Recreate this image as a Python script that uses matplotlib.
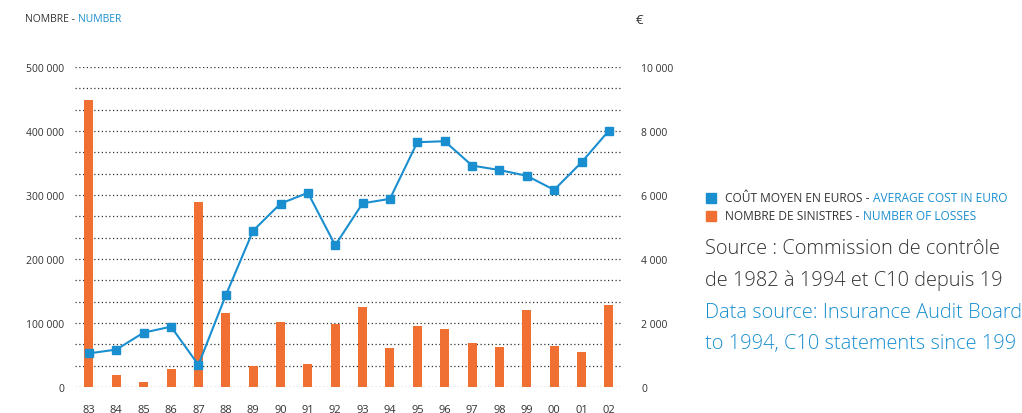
import matplotlib
matplotlib.use("Agg")
import matplotlib.pyplot as plt
import numpy as np
from matplotlib.patches import Rectangle

years = ["83", "84", "85", "86", "87", "88", "89", "90", "91", "92",
         "93", "94", "95", "96", "97", "98", "99", "00", "01", "02"]
losses = [448000, 19000, 8000, 28000, 289000, 116000, 33000, 102000, 36000, 98000,
          125000, 61000, 95000, 91000, 69000, 63000, 120000, 64000, 55000, 128000]
avg_cost = [1050, 1170, 1700, 1885, 690, 2865, 4885, 5730, 6070, 4430,
            5740, 5880, 7650, 7680, 6920, 6780, 6600, 6160, 7020, 8010]
left_ticks = [0, 100000, 200000, 300000, 400000, 500000]
right_ticks = [0, 2000, 4000, 6000, 8000, 10000]

ORANGE = "#F07033"
BLUE = "#1A8FD0"
DARK = "#333333"
FONT = "Open Sans"

plt.rcParams['font.family'] = [FONT, 'DejaVu Sans']

W, H = 1022, 414
fig = plt.figure(figsize=(W/100, H/100), dpi=100)
ax = fig.add_axes([75/W, 26/H, 547/W, 320/H])
x = np.arange(len(years))

for g in np.linspace(0, 500000, 16):
    ax.axhline(g, color=DARK, lw=0.9, ls=(0, (1, 2)), zorder=0)

ax.bar(x, losses, width=0.33, color=ORANGE, zorder=2)
ax.set_ylim(0, 500000)
ax.set_xlim(-0.51, 19.48)
ax.set_xticks(x)
ax.set_xticklabels(years, fontsize=8, color=DARK)
ax.set_yticks(left_ticks)
ax.set_yticklabels([f"{v:,}".replace(",", " ") for v in left_ticks], fontsize=7.5, color=DARK)
ax.tick_params(length=0, pad=8)
ax.tick_params(axis='x', pad=12)
for s in ax.spines.values():
    s.set_visible(False)

ax2 = ax.twinx()
ax2.plot(x, avg_cost, color=BLUE, lw=1.5, marker='s', markersize=5.5, zorder=3)
ax2.set_ylim(0, 10000)
ax2.set_yticks(right_ticks)
ax2.set_yticklabels([f"{v:,}".replace(",", " ") for v in right_ticks], fontsize=7.5, color=DARK)
ax2.tick_params(length=0, pad=14)
for s in ax2.spines.values():
    s.set_visible(False)


def two_part(x0, yc, a, b, fs):
    t = fig.text(x0/W, yc, a, fontsize=fs, color=DARK, va='center')
    fig.canvas.draw()
    bb = t.get_window_extent()
    sp = fs * 100 / 72 * 0.28
    fig.text((bb.x1 + sp)/W, yc, b, fontsize=fs, color=BLUE, va='center')


two_part(25, 1 - 20/H, "NOMBRE -", "NUMBER", 7.5)
fig.text(636/W, 1 - 20/H, "€", fontsize=9.5, color=DARK, va='center')

for i, (col, fr, en) in enumerate([
        (BLUE, "COÛT MOYEN EN EUROS -", "AVERAGE COST IN EURO"),
        (ORANGE, "NOMBRE DE SINISTRES -", "NUMBER OF LOSSES")]):
    yc = 1 - (199 + i * 18) / H
    fig.patches.append(Rectangle((706/W, yc - 5/H), 10/W, 10/H,
                                 transform=fig.transFigure, color=col))
    two_part(725, yc, fr, en, 8.6)

src = [("Source : Commission de contrôle", DARK, 249),
       ("de 1982 à 1994 et C10 depuis 19", DARK, 281),
       ("Data source: Insurance Audit Board", BLUE, 313),
       ("to 1994, C10 statements since 199", BLUE, 344)]
for txt, col, yp in src:
    fig.text(705/W, 1 - yp/H, txt, fontsize=14.4, color=col, va='center',
             fontweight='light')

fig.savefig("out.png", dpi=100)
